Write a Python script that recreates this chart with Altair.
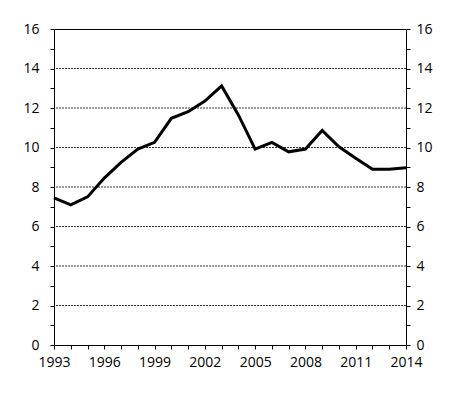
import altair as alt
import pandas as pd

years = list(range(1993, 2015))
values = [7.45, 7.1, 7.5, 8.45, 9.25, 9.92, 10.26, 11.48, 11.81, 12.35, 13.12,
          11.65, 9.92, 10.26, 9.78, 9.92, 10.86, 10.04, 9.46, 8.9, 8.9, 8.98]
grid_values = [2, 4, 6, 8, 10, 12, 14]
y_ticks = list(range(0, 17))
x_ticks = years

df = pd.DataFrame({"year": years, "value": values})
gdf = pd.DataFrame({"g": grid_values})

FONT = "Open Sans"

x_enc = alt.X("year:Q", scale=alt.Scale(domain=[1993, 2014], nice=False, zero=False),
              axis=alt.Axis(values=x_ticks, format="d", title=None, grid=False,
                            labelExpr="(datum.value - 1993) % 3 == 0 ? datum.label : ''",
                            tickSize=4, labelPadding=6, domainColor="black", tickColor="black",
                            labelFontSize=14, labelFont=FONT, labelColor="black",
                            labelFlush=False))

def y_axis(orient, pad):
    return alt.Axis(orient=orient, values=y_ticks, title=None, grid=False,
                    labelExpr="datum.value % 2 == 0 ? datum.label : ''",
                    tickSize=4, labelPadding=pad, domainColor="black", tickColor="black",
                    labelFontSize=14, labelFont=FONT, labelColor="black")

yscale = alt.Scale(domain=[0, 16], nice=False)

grid = alt.Chart(gdf).mark_rule(color="black", strokeWidth=0.8, strokeDash=[2, 1]).encode(
    y=alt.Y("g:Q", scale=yscale, axis=y_axis("left", 11))
)

line = alt.Chart(df).mark_line(color="black", strokeWidth=3, strokeJoin="miter").encode(
    x=x_enc,
    y=alt.Y("value:Q", scale=yscale, axis=y_axis("right", 6))
)

chart = alt.layer(grid, line).resolve_scale(y="independent").properties(
    width=352, height=316,
    autosize=alt.AutoSizeParams(type="none"),
    padding={"left": 46, "top": 21, "right": 46, "bottom": 43},
    background="white"
).configure_view(stroke="black", strokeWidth=1)

chart.save("out.html", embed_options={"renderer": "svg", "actions": False})
